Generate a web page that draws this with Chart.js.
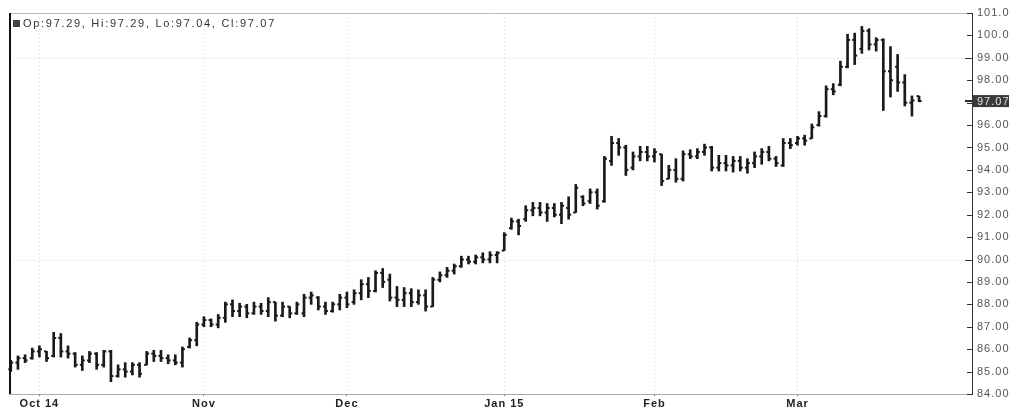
<!DOCTYPE html>
<html><head><meta charset="utf-8">
<script src="https://cdn.jsdelivr.net/npm/chart.js@4/dist/chart.umd.min.js"></script>
<style>html,body{margin:0;padding:0;background:#fff}#wrap{width:1013px;height:410px;position:relative}</style>
</head><body><div id="wrap"><canvas id="c" width="1013" height="410"></canvas></div>
<script>
const highs=[85.5,85.7,85.75,86.05,86.15,85.9,86.75,86.7,86.15,85.85,85.7,85.9,85.85,85.95,85.95,85.3,85.4,85.4,85.4,85.9,85.95,85.95,85.75,85.75,86.1,86.5,87.2,
87.45,87.35,87.55,88.1,88.2,88.05,88.0,88.1,88.05,88.3,88.1,88.1,87.9,88.1,88.45,88.55,88.35,88.1,88.1,88.45,
88.55,88.65,89.1,89.2,89.5,89.6,89.35,88.8,88.75,88.7,88.65,88.65,89.2,89.45,89.65,89.8,90.15,90.15,90.2,90.3,90.35,90.35,
91.2,91.85,91.8,92.4,92.55,92.55,92.5,92.5,92.55,92.8,93.35,92.85,93.15,93.15,94.6,95.5,95.4,95.1,94.8,95.05,95.05,
94.95,94.7,94.2,94.5,94.85,94.9,94.95,95.15,95.05,94.65,94.65,94.6,94.6,94.5,94.8,94.95,95.05,94.6,95.4,95.4,
95.5,95.55,96.05,96.6,97.75,97.85,98.85,100.05,100.1,100.4,100.3,99.9,99.85,99.5,99.15,98.25,97.3,97.29];
const lows=[85.0,85.1,85.4,85.55,85.65,85.45,85.65,85.65,85.6,85.2,85.05,85.4,85.1,85.2,84.55,84.75,84.75,84.85,84.75,85.3,85.45,85.45,85.35,85.3,85.2,86.05,86.15,
87.0,87.0,86.95,87.2,87.45,87.45,87.4,87.55,87.55,87.45,87.25,87.45,87.4,87.55,87.45,88.0,87.75,87.55,87.65,87.75,
87.85,88.0,88.2,88.3,88.55,88.75,88.15,87.9,87.9,87.9,88.0,87.7,87.9,89.0,89.2,89.35,89.65,89.8,89.8,89.85,89.85,89.85,
90.4,91.35,91.1,91.7,91.95,91.95,91.7,91.9,91.6,91.8,92.1,92.4,92.5,92.25,92.55,94.2,94.65,93.75,94.0,94.4,94.4,
94.35,93.3,93.6,93.45,93.5,94.5,94.5,94.65,93.95,93.95,93.95,93.9,93.95,93.85,94.1,94.25,94.4,94.15,94.15,94.95,
95.1,95.1,95.4,95.95,96.35,97.35,97.75,98.55,98.7,99.2,99.35,99.3,96.65,97.25,97.5,96.85,96.4,97.04];
const opens=[85.1,85.4,85.6,85.6,85.9,85.9,85.7,86.5,85.9,85.8,85.3,85.5,85.8,85.3,85.9,84.8,85.1,85.0,85.3,85.3,85.8,85.7,85.6,85.5,85.4,86.1,86.4,
87.1,87.3,87.1,87.4,88.0,87.7,87.9,87.6,87.9,87.7,88.1,87.5,87.9,87.6,87.6,88.3,88.3,87.9,87.7,88.0,
88.3,88.1,88.5,88.9,88.6,89.4,89.1,88.3,88.2,88.5,88.1,88.4,87.9,89.1,89.3,89.5,89.7,90.0,89.9,90.1,90.0,90.2,
90.4,91.4,91.7,91.8,92.2,92.3,92.1,92.3,92.0,92.3,92.1,92.8,92.6,93.0,92.6,94.4,95.2,95.0,94.1,94.6,94.8,
94.6,94.7,93.6,94.0,93.6,94.7,94.6,94.8,95.0,94.1,94.3,94.2,94.4,94.1,94.3,94.6,94.8,94.5,94.2,95.2,
95.2,95.4,95.4,96.0,96.4,97.6,97.8,98.6,99.8,99.4,100.2,99.6,99.8,98.4,98.6,97.9,97.0,97.29];
const closes=[85.4,85.6,85.5,85.9,86.0,85.6,86.5,85.9,85.8,85.3,85.5,85.8,85.3,85.9,84.8,85.1,85.0,85.3,84.9,85.8,85.7,85.6,85.5,85.4,86.0,86.4,87.1,
87.3,87.1,87.4,88.0,87.7,87.9,87.6,87.9,87.7,88.1,87.5,87.9,87.6,88.0,88.3,88.4,87.9,87.7,88.0,88.3,
88.0,88.5,88.9,88.6,89.4,89.0,88.3,88.2,88.5,88.1,88.4,87.9,89.1,89.3,89.5,89.7,90.0,89.9,90.1,90.0,90.2,90.3,
91.1,91.7,91.5,92.2,92.3,92.1,92.3,92.0,92.4,92.0,93.2,92.5,93.0,92.4,94.5,95.2,95.0,94.0,94.6,94.8,94.6,
94.8,93.5,94.0,93.6,94.7,94.6,94.8,95.0,94.1,94.3,94.2,94.4,94.1,94.3,94.6,94.8,94.5,94.3,95.2,95.1,
95.4,95.3,95.9,96.4,97.6,97.5,98.6,99.8,99.1,100.2,99.6,99.8,98.4,98.0,97.9,97.0,97.1,97.07];
const monthIdx=[4,27,47,69,90,110];
const monthLabels=['Oct 14','Nov','Dec','Jan 15','Feb','Mar'];
const yTicks=[84,85,86,87,88,89,90,91,92,93,94,95,96,97,98,99,100,101];
const yLabels=['84.00','85.00','86.00','87.00','88.00','89.00','90.00','91.00','92.00','93.00','94.00','95.00','96.00','','98.00','99.00','100.0','101.0'];
const yGrid=[90,99];
const legendText='Op:97.29, Hi:97.29, Lo:97.04, Cl:97.07';
const lastValue=97.07;
const lastLabel='97.07';

const FONT='Arial, "Liberation Sans", sans-serif';

const ohlcPlugin={
  id:'ohlc',
  beforeDraw(chart){ chart.ctx.letterSpacing='1px'; },
  beforeDatasetsDraw(chart){
    const {ctx,chartArea:a,scales:{x,y}}=chart;
    ctx.save();
    ctx.strokeStyle='#e9e9e9';ctx.lineWidth=1;ctx.setLineDash([2,2]);
    yGrid.forEach(v=>{const py=Math.round(y.getPixelForValue(v))+0.5;ctx.beginPath();ctx.moveTo(a.left,py);ctx.lineTo(a.right,py);ctx.stroke();});
    monthIdx.forEach(v=>{const px=Math.round(x.getPixelForValue(v))+0.5;ctx.beginPath();ctx.moveTo(px,a.top);ctx.lineTo(px,a.bottom);ctx.stroke();});
    ctx.restore();
  },
  afterDatasetsDraw(chart){
    const {ctx,chartArea:a,scales:{x,y}}=chart;
    ctx.save();
    ctx.strokeStyle='#1a1a1a';ctx.lineWidth=2;
    opens.forEach((o,i)=>{
      const px=x.getPixelForValue(i);
      const po=y.getPixelForValue(o), pc=y.getPixelForValue(closes[i]);
      ctx.beginPath();ctx.moveTo(px-2.5,po);ctx.lineTo(px,po);ctx.stroke();
      ctx.beginPath();ctx.moveTo(px,pc);ctx.lineTo(px+2.5,pc);ctx.stroke();
    });
    ctx.lineWidth=1;
    ctx.strokeStyle='#bbbbbb';
    ctx.beginPath();ctx.moveTo(a.left,a.top+0.5);ctx.lineTo(a.right,a.top+0.5);ctx.stroke();
    ctx.strokeStyle='#111';ctx.lineWidth=2;
    ctx.beginPath();ctx.moveTo(a.left+1,a.top);ctx.lineTo(a.left+1,a.bottom);ctx.stroke();
    ctx.strokeStyle='#333';ctx.lineWidth=1;
    yTicks.forEach(v=>{const py=Math.round(y.getPixelForValue(v))+0.5;const len=(v===90||v===99)?7:5;ctx.beginPath();ctx.moveTo(a.right-len,py);ctx.lineTo(a.right,py);ctx.stroke();});
    const ly=y.getPixelForValue(lastValue);
    ctx.strokeStyle='#222';ctx.lineWidth=2;
    ctx.beginPath();ctx.moveTo(a.right-7,ly);ctx.lineTo(a.right,ly);ctx.stroke();
    ctx.fillStyle='#3a3a3a';ctx.fillRect(a.right+1,ly-6,36,12);
    ctx.fillStyle='#e0e0e0';ctx.font='11px '+FONT;ctx.textBaseline='middle';ctx.textAlign='left';
    ctx.fillText(lastLabel,a.right+5,ly+0.5);
    ctx.fillStyle='#444';ctx.fillRect(a.left+4,a.top+7,7,7);
    ctx.fillStyle='#333';ctx.font='11px '+FONT;ctx.textBaseline='middle';
    ctx.letterSpacing='1.7px';
    ctx.fillText(legendText,a.left+14,a.top+11);
    ctx.restore();
  }
};

new Chart(document.getElementById('c'),{
  type:'bar',
  data:{datasets:[{
    data:highs.map((h,i)=>({x:i,y:[lows[i],h]})),
    backgroundColor:'#1a1a1a',barThickness:2,borderWidth:0
  }]},
  options:{
    responsive:false,animation:false,
    plugins:{legend:{display:false},tooltip:{enabled:false}},
    layout:{padding:{left:9,top:13,right:0,bottom:0}},
    scales:{
      x:{type:'linear',min:-0.25,max:134.4,offset:false,
        afterBuildTicks:s=>{s.ticks=monthIdx.map(v=>({value:v}));},
        afterFit:s=>{s.height=16;},
        ticks:{callback:(v,i)=>monthLabels[i],autoSkip:false,maxRotation:0,
          font:{family:FONT,size:11,weight:'bold'},color:'#222',padding:1},
        grid:{offset:false,drawOnChartArea:false,tickColor:'#666',tickLength:2,lineWidth:1},
        border:{color:'#aaaaaa',width:1}
      },
      y:{position:'right',min:84,max:101,
        afterBuildTicks:s=>{s.ticks=yTicks.map(v=>({value:v}));},
        afterFit:s=>{s.width=41;},
        ticks:{callback:(v,i)=>yLabels[i],autoSkip:false,
          font:{family:FONT,size:11},color:'#555',padding:5},
        grid:{drawOnChartArea:false,drawTicks:false},
        border:{color:'#333',width:1}
      }
    }
  },
  plugins:[ohlcPlugin]
});
</script></body></html>
